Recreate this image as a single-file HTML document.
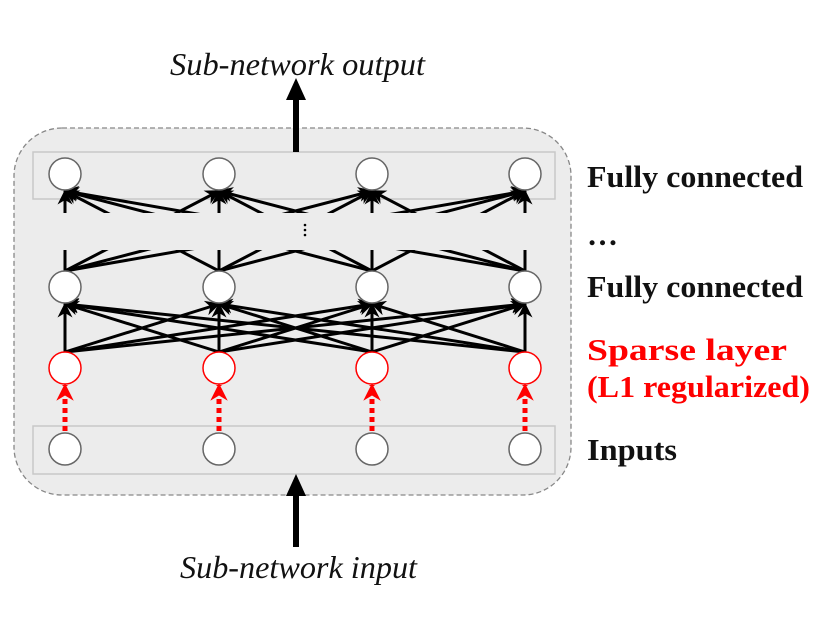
<!DOCTYPE html>
<html><head><style>body{margin:0;background:#fff}svg{display:block}</style></head><body>
<svg width="830" height="623" viewBox="0 0 830 623" xmlns="http://www.w3.org/2000/svg">
<defs>
<marker id="ah" viewBox="0 0 10 10" refX="9" refY="5" markerWidth="5" markerHeight="5" orient="auto" markerUnits="strokeWidth"><path d="M0,0 L10,5 L0,10 L3,5 z" fill="#000"/></marker>
<marker id="rh" viewBox="0 0 10 10" refX="9" refY="5" markerWidth="3.5" markerHeight="3.5" orient="auto" markerUnits="strokeWidth"><path d="M0,0 L10,5 L0,10 L3,5 z" fill="#f00"/></marker>
<clipPath id="cA"><rect x="0" y="0" width="830" height="213"/></clipPath>
<clipPath id="cB"><rect x="0" y="250" width="830" height="100"/></clipPath>
</defs>
<rect x="14" y="128" width="557" height="367" rx="48" fill="#ececec" stroke="#888" stroke-dasharray="5,3" stroke-width="1.3"/>
<rect x="33" y="152" width="522" height="47" fill="#ececec" stroke="#c8c8c8" stroke-width="1.5"/>
<rect x="33" y="426" width="522" height="48" fill="#ececec" stroke="#c8c8c8" stroke-width="1.5"/>
<g stroke="#000" stroke-width="3" fill="none">
<g clip-path="url(#cA)">
<line x1="65" y1="271" x2="65" y2="191" marker-end="url(#ah)"/><line x1="65" y1="271" x2="219" y2="191" marker-end="url(#ah)"/><line x1="65" y1="271" x2="372" y2="191" marker-end="url(#ah)"/><line x1="65" y1="271" x2="525" y2="191" marker-end="url(#ah)"/>
<line x1="219" y1="271" x2="65" y2="191" marker-end="url(#ah)"/><line x1="219" y1="271" x2="219" y2="191" marker-end="url(#ah)"/><line x1="219" y1="271" x2="372" y2="191" marker-end="url(#ah)"/><line x1="219" y1="271" x2="525" y2="191" marker-end="url(#ah)"/>
<line x1="372" y1="271" x2="65" y2="191" marker-end="url(#ah)"/><line x1="372" y1="271" x2="219" y2="191" marker-end="url(#ah)"/><line x1="372" y1="271" x2="372" y2="191" marker-end="url(#ah)"/><line x1="372" y1="271" x2="525" y2="191" marker-end="url(#ah)"/>
<line x1="525" y1="271" x2="65" y2="191" marker-end="url(#ah)"/><line x1="525" y1="271" x2="219" y2="191" marker-end="url(#ah)"/><line x1="525" y1="271" x2="372" y2="191" marker-end="url(#ah)"/><line x1="525" y1="271" x2="525" y2="191" marker-end="url(#ah)"/>
</g>
<g clip-path="url(#cB)">
<line x1="65" y1="271" x2="65" y2="191"/><line x1="65" y1="271" x2="219" y2="191"/><line x1="65" y1="271" x2="372" y2="191"/><line x1="65" y1="271" x2="525" y2="191"/>
<line x1="219" y1="271" x2="65" y2="191"/><line x1="219" y1="271" x2="219" y2="191"/><line x1="219" y1="271" x2="372" y2="191"/><line x1="219" y1="271" x2="525" y2="191"/>
<line x1="372" y1="271" x2="65" y2="191"/><line x1="372" y1="271" x2="219" y2="191"/><line x1="372" y1="271" x2="372" y2="191"/><line x1="372" y1="271" x2="525" y2="191"/>
<line x1="525" y1="271" x2="65" y2="191"/><line x1="525" y1="271" x2="219" y2="191"/><line x1="525" y1="271" x2="372" y2="191"/><line x1="525" y1="271" x2="525" y2="191"/>
</g>
<line x1="65" y1="352" x2="65" y2="304" marker-end="url(#ah)"/><line x1="65" y1="352" x2="219" y2="304" marker-end="url(#ah)"/><line x1="65" y1="352" x2="372" y2="304" marker-end="url(#ah)"/><line x1="65" y1="352" x2="525" y2="304" marker-end="url(#ah)"/>
<line x1="219" y1="352" x2="65" y2="304" marker-end="url(#ah)"/><line x1="219" y1="352" x2="219" y2="304" marker-end="url(#ah)"/><line x1="219" y1="352" x2="372" y2="304" marker-end="url(#ah)"/><line x1="219" y1="352" x2="525" y2="304" marker-end="url(#ah)"/>
<line x1="372" y1="352" x2="65" y2="304" marker-end="url(#ah)"/><line x1="372" y1="352" x2="219" y2="304" marker-end="url(#ah)"/><line x1="372" y1="352" x2="372" y2="304" marker-end="url(#ah)"/><line x1="372" y1="352" x2="525" y2="304" marker-end="url(#ah)"/>
<line x1="525" y1="352" x2="65" y2="304" marker-end="url(#ah)"/><line x1="525" y1="352" x2="219" y2="304" marker-end="url(#ah)"/><line x1="525" y1="352" x2="372" y2="304" marker-end="url(#ah)"/><line x1="525" y1="352" x2="525" y2="304" marker-end="url(#ah)"/>
</g>
<g stroke="#f00" stroke-width="5" stroke-dasharray="5,4" fill="none">
<line x1="65" y1="431" x2="65" y2="385" marker-end="url(#rh)"/><line x1="219" y1="431" x2="219" y2="385" marker-end="url(#rh)"/><line x1="372" y1="431" x2="372" y2="385" marker-end="url(#rh)"/><line x1="525" y1="431" x2="525" y2="385" marker-end="url(#rh)"/>
</g>
<g fill="#000"><circle cx="305" cy="225" r="1.3"/><circle cx="305" cy="230" r="1.3"/><circle cx="305" cy="235" r="1.3"/></g>
<g fill="#fff" stroke="#666" stroke-width="1.5">
<circle cx="65" cy="174" r="16"/><circle cx="219" cy="174" r="16"/><circle cx="372" cy="174" r="16"/><circle cx="525" cy="174" r="16"/>
<circle cx="65" cy="287" r="16"/><circle cx="219" cy="287" r="16"/><circle cx="372" cy="287" r="16"/><circle cx="525" cy="287" r="16"/>
<circle cx="65" cy="449" r="16"/><circle cx="219" cy="449" r="16"/><circle cx="372" cy="449" r="16"/><circle cx="525" cy="449" r="16"/>
</g>
<g fill="#fff" stroke="#f00" stroke-width="1.5">
<circle cx="65" cy="368" r="16"/><circle cx="219" cy="368" r="16"/><circle cx="372" cy="368" r="16"/><circle cx="525" cy="368" r="16"/>
</g>
<rect x="293" y="98" width="6" height="54" fill="#000"/><path d="M286,100 L296,78 L306,100 z" fill="#000"/>
<rect x="293" y="490" width="6" height="57" fill="#000"/><path d="M286,496 L296,474 L306,496 z" fill="#000"/>
<g font-family="Liberation Serif, serif" font-style="italic" font-size="32" fill="#111">
<text x="170" y="75" textLength="255" lengthAdjust="spacingAndGlyphs">Sub-network output</text>
<text x="180" y="578" textLength="237" lengthAdjust="spacingAndGlyphs">Sub-network input</text>
</g>
<g font-family="Liberation Serif, serif" font-weight="bold" font-size="31" fill="#111">
<text x="587" y="187" textLength="216" lengthAdjust="spacingAndGlyphs">Fully connected</text>
<text x="587" y="245">…</text>
<text x="587" y="297" textLength="216" lengthAdjust="spacingAndGlyphs">Fully connected</text>
<text x="587" y="360" fill="#f00" textLength="200" lengthAdjust="spacingAndGlyphs">Sparse layer</text>
<text x="587" y="397" fill="#f00" textLength="223" lengthAdjust="spacingAndGlyphs">(L1 regularized)</text>
<text x="587" y="460" textLength="90" lengthAdjust="spacingAndGlyphs">Inputs</text>
</g>
</svg>
</body></html>
